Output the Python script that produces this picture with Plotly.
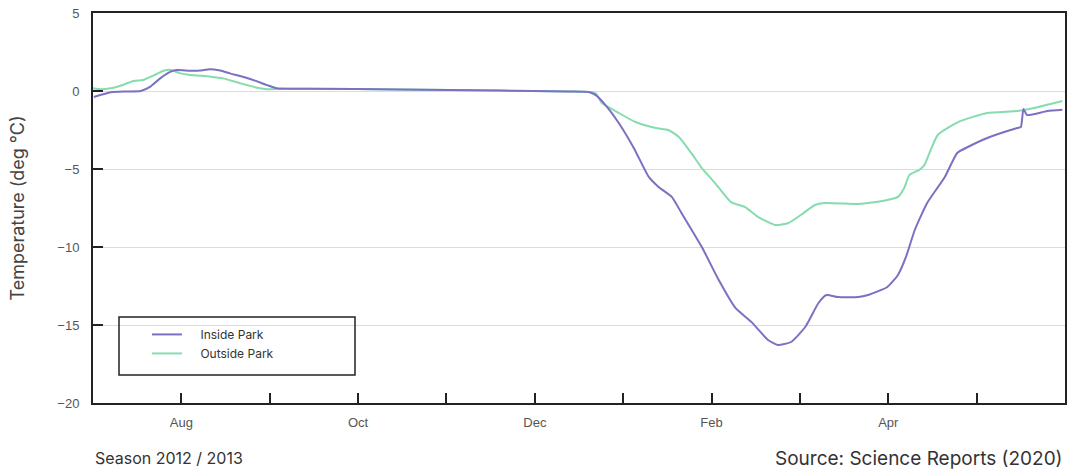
import plotly.graph_objects as go

# x = months since start of July 2012 (Aug tick = 1, Sep = 2, ...)
inside_x = [0.01, 0.20, 0.37, 0.54, 0.65, 0.76, 0.88, 0.95, 1.10, 1.21, 1.32, 1.44, 1.55, 1.78, 1.97, 2.08,
            2.45, 3.47, 4.60, 5.38, 5.61, 5.69, 5.80, 5.95, 6.12, 6.29, 6.40, 6.55, 6.66, 6.89, 7.08,
            7.27, 7.45, 7.64, 7.75, 7.90, 8.06, 8.21, 8.30, 8.43, 8.66, 8.77, 8.99, 9.11, 9.20, 9.30,
            9.44, 9.64, 9.78, 9.90, 10.12, 10.46, 10.50, 10.53, 10.57, 10.80, 10.97]
inside_y = [-0.38, -0.08, -0.03, 0.0, 0.28, 0.81, 1.24, 1.35, 1.30, 1.31, 1.40, 1.31, 1.13, 0.77, 0.38, 0.17,
            0.15, 0.10, 0.03, -0.03, -0.06, -0.26, -0.90, -2.05, -3.65, -5.51, -6.15, -6.79, -7.82, -10.0, -12.1,
            -13.9, -14.8, -15.96, -16.28, -16.09, -15.13, -13.59, -13.08, -13.21, -13.21, -13.08, -12.56, -11.79, -10.64, -8.91,
            -7.18, -5.51, -3.97, -3.59, -3.01, -2.37, -2.31, -1.15, -1.54, -1.28, -1.20]

outside_x = [0.0, 0.09, 0.20, 0.31, 0.46, 0.57, 0.68, 0.80, 0.88, 0.99, 1.10, 1.33, 1.47, 1.67, 1.86, 1.97, 2.12,
             2.45, 3.47, 4.60, 5.38, 5.61, 5.69, 5.76, 5.95, 6.14, 6.37, 6.51, 6.63, 6.77, 6.89, 7.04,
             7.22, 7.38, 7.53, 7.72, 7.87, 8.01, 8.17, 8.28, 8.65, 8.77, 8.99, 9.11, 9.18, 9.24, 9.35,
             9.41, 9.48, 9.56, 9.79, 10.12, 10.46, 10.65, 10.97]
outside_y = [0.17, 0.11, 0.17, 0.34, 0.64, 0.71, 0.98, 1.30, 1.35, 1.13, 1.03, 0.92, 0.81, 0.49, 0.21, 0.11, 0.13,
             0.14, 0.10, 0.03, -0.03, -0.06, -0.15, -0.77, -1.41, -1.99, -2.37, -2.50, -2.95, -3.97, -4.94, -5.90,
             -7.12, -7.44, -8.08, -8.59, -8.46, -7.95, -7.31, -7.18, -7.24, -7.18, -6.99, -6.79, -6.22, -5.38, -5.06,
             -4.74, -3.78, -2.82, -1.99, -1.41, -1.28, -1.09, -0.64]

month_ticks = [1, 2, 3, 4, 5, 6, 7, 8, 9, 10]
month_labels = ["Aug", "", "Oct", "", "Dec", "", "Feb", "", "Apr", ""]
y_ticks = [5, 0, -5, -10, -15, -20]

PURPLE = "#7b70c2"
GREEN = "#86dcad"
PAD = "\u00a0" * 4

fig = go.Figure()
fig.add_trace(go.Scatter(x=outside_x, y=outside_y, mode="lines", name=PAD + "Outside Park",
                         line=dict(color=GREEN, width=2, shape="spline", smoothing=0.5)))
fig.add_trace(go.Scatter(x=inside_x, y=inside_y, mode="lines", name=PAD + "Inside Park",
                         line=dict(color=PURPLE, width=2, shape="spline", smoothing=0.5)))

fig.update_layout(
    width=1070, height=475,
    margin=dict(l=93, r=5, t=13, b=72, autoexpand=False),
    paper_bgcolor="white", plot_bgcolor="white",
    font=dict(family="Liberation Sans, Arial, sans-serif", color="#444"),
    showlegend=True,
    legend=dict(x=0.0555, y=0.213, xanchor="left", yanchor="top", traceorder="reversed",
                bgcolor="rgba(0,0,0,0)", borderwidth=0,
                font=dict(family="Inter, Liberation Sans, sans-serif", size=12, color="#333"),
                tracegroupgap=0),
    xaxis=dict(range=[0, 11], tickvals=month_ticks, ticktext=month_labels,
               ticks="inside", ticklen=10, tickwidth=1.5, tickcolor="#222",
               showline=True, linecolor="#222", linewidth=2, mirror=True,
               showgrid=False, zeroline=False, ticklabelstandoff=6,
               tickfont=dict(size=13, color="#555")),
    yaxis=dict(range=[-20, 5], tickvals=y_ticks,
               ticks="inside", ticklen=10, tickwidth=1.5, tickcolor="#222",
               showline=True, linecolor="#222", linewidth=2, mirror=True,
               showgrid=True, gridcolor="#dcdcdc", gridwidth=1, zeroline=False,
               ticklabelstandoff=9,
               tickfont=dict(size=13, color="#555"),
               title=dict(text="Temperature (deg °C)", standoff=28,
                          font=dict(family="Inter, Liberation Sans, sans-serif", size=18, color="#444"))),
    shapes=[dict(type="rect", xref="paper", yref="paper",
                 x0=(119 - 93) / 972, x1=(355 - 93) / 972,
                 y0=(403 - 375) / 390, y1=(403 - 317) / 390,
                 line=dict(color="#222", width=1.5), fillcolor="rgba(0,0,0,0)")],
    annotations=[
        dict(text="Season 2012 / 2013", xref="paper", yref="paper", x=0, y=0,
             xanchor="left", yanchor="middle", yshift=-55, showarrow=False,
             font=dict(family="Inter, Liberation Sans, sans-serif", size=16, color="#333")),
        dict(text="Source: Science Reports (2020)", xref="paper", yref="paper", x=1, y=0,
             xanchor="right", yanchor="middle", yshift=-55, showarrow=False,
             font=dict(family="Inter, Liberation Sans, sans-serif", size=19, color="#333")),
    ],
)

fig.write_html("out.html", config={"displayModeBar": False},
               post_script="document.body.style.margin='0px';")
